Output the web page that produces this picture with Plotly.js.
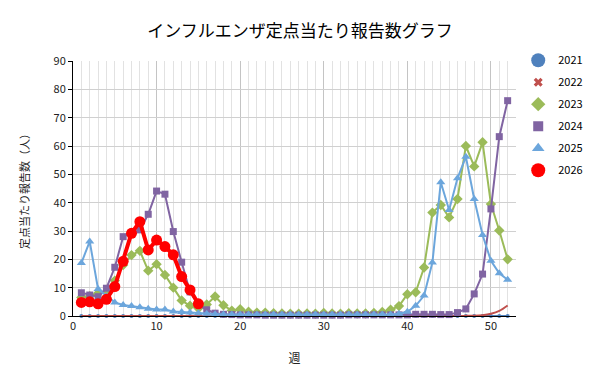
<!DOCTYPE html>
<html>
<head>
<meta charset="utf-8">
<script src="https://cdn.plot.ly/plotly-3.0.1.min.js"></script>
<style>html,body{margin:0;padding:0;background:#fff;}#chart{width:600px;height:384px;}</style>
</head>
<body>
<div id="chart"></div>
<script>
const weeks = [1,2,3,4,5,6,7,8,9,10,11,12,13,14,15,16,17,18,19,20,21,22,23,24,25,26,27,28,29,30,31,32,33,34,35,36,37,38,39,40,41,42,43,44,45,46,47,48,49,50,51,52];
const weeks2026 = [1,2,3,4,5,6,7,8,9,10,11,12,13,14,15];

const y2021 = [0,0,0,0,0,0,0,0,0,0,0,0,0,0,0,0,0,0,0,0,0,0,0,0,0,0,0,0,0,0,0,0,0,0,0,0,0,0,0,0,0,0,0,0,0,0,0,0,0,0,0,0];
const y2022 = [0,0,0,0,0,0,0,0,0,0,0,0,0,0,0,0,0,0,0,0,0,0,0,0,0,0,0,0,0,0,0,0,0,0,0,0,0,0,0,0,0,0,0,0,0,0,0.05,0.1,0.3,0.8,1.8,3.7];
const y2023 = [6.5,7,8,8.5,12.5,18,21.5,23,16,18.3,14.5,10,5.5,3.6,2.7,4.1,6.9,3.8,1.9,2.4,1.5,1.2,1.2,1.0,0.9,0.8,0.8,0.9,0.8,1.1,0.9,0.8,1.0,0.9,0.9,1.1,1.4,2.2,3.5,7.7,8.4,17.1,36.5,39.2,34.8,41.3,60,52.8,61.3,39.5,30.2,20];
const y2024 = [8.2,7.4,6.8,9.8,17.2,28,29.2,30.4,35.9,44.1,43,29.8,19,8.5,4,2.2,1,0.6,0.5,0.4,0.4,0.4,0.3,0.3,0.3,0.3,0.3,0.3,0.3,0.3,0.3,0.3,0.4,0.4,0.4,0.4,0.4,0.4,0.4,0.4,0.6,0.6,0.6,0.5,0.5,1.2,2.5,7.8,14.8,37.8,63.3,76];
const y2025 = [18.7,26.3,9.5,7,4.8,3.9,3.5,3.1,2.6,2.3,2.3,1.6,1.4,1.2,1.0,0.8,0.6,0.5,0.5,0.5,0.5,0.5,0.5,0.5,0.5,0.5,0.5,0.5,0.5,0.5,0.5,0.5,0.5,0.5,0.5,0.5,0.5,0.5,0.8,1.5,3.6,7.2,18.9,47.2,37.4,48.6,56.2,41.3,28.6,19.5,15.1,12.8];
const y2026 = [4.8,5.0,4.3,5.9,10.4,19.3,29.2,33.3,23.3,26.8,24.5,21.6,13.9,9.2,4.3];

const seriesNames = ['2021','2022','2023','2024','2025','2026'];
const colors = ['#4F81BD','#C0504D','#9BBB59','#8064A2','#6CA6DC','#FF0000'];
const symbols = ['circle','x','diamond','square','triangle-up','circle'];

const FONT = '"Noto Sans CJK JP", "Noto Sans", sans-serif';

const xs = [weeks,weeks,weeks,weeks,weeks,weeks2026];
const ys = [y2021,y2022,y2023,y2024,y2025,y2026];
const msize = [4,4,8,7,8,11];
const lwidth = [2,2,2,2,2,4];

const traces = [];
for (let i = 0; i < 6; i++) {
  traces.push({
    x: xs[i], y: ys[i], type: 'scatter', mode: i === 1 ? 'lines' : 'lines+markers',
    name: seriesNames[i], showlegend: false,
    line: {color: colors[i], width: lwidth[i], shape: i === 1 ? 'spline' : 'linear'},
    marker: {color: colors[i], symbol: symbols[i], size: msize[i]},
    cliponaxis: false
  });
}
const legSizes = [14,8,11,10,11,14];
for (let i = 0; i < 6; i++) {
  traces.push({
    x: [null], y: [null], type: 'scatter', mode: 'markers', name: seriesNames[i],
    legendgroup: 'g' + i,
    marker: {color: colors[i], symbol: symbols[i], size: legSizes[i]}
  });
}

const layout = {
  width: 600, height: 384,
  margin: {l: 73, r: 84, t: 61, b: 68},
  paper_bgcolor: '#fff', plot_bgcolor: '#fff',
  font: {family: FONT, size: 11, color: '#222'},
  title: {text: 'インフルエンザ定点当たり報告数グラフ', font: {family: FONT, size: 17, color: '#000'},
          x: 0.5, xref: 'container', y: 0.92, yref: 'container', yanchor: 'middle'},
  xaxis: {
    range: [0, 53], tick0: 0, dtick: 10, showline: true, linecolor: '#000', linewidth: 1,
    zeroline: false, showgrid: true, gridcolor: '#c4c4c4', gridwidth: 1,
    ticks: '', tickfont: {size: 11, color: '#222'},
    minor: {dtick: 1, tick0: 0, showgrid: true, gridcolor: '#e2e2e2', gridwidth: 1},
    title: {text: '週', font: {size: 12, color: '#222'}, standoff: 22}
  },
  yaxis: {
    range: [0, 90], tick0: 0, dtick: 10, showline: true, linecolor: '#000', linewidth: 1,
    zeroline: false, showgrid: true, gridcolor: '#d0d0d0', gridwidth: 1,
    ticks: 'outside', ticklen: 4, tickcolor: '#000', tickfont: {size: 11, color: '#222'},
    title: {text: '定点当たり報告数（人）', font: {size: 11, color: '#222'}, standoff: 21}
  },
  legend: {x: 1.005, y: 1.06, xanchor: 'left', yanchor: 'top', font: {size: 11, color: '#000'},
           tracegroupgap: 3, bgcolor: 'rgba(0,0,0,0)'}
};

Plotly.newPlot('chart', traces, layout, {displayModeBar: false, staticPlot: true});
</script>
</body>
</html>
